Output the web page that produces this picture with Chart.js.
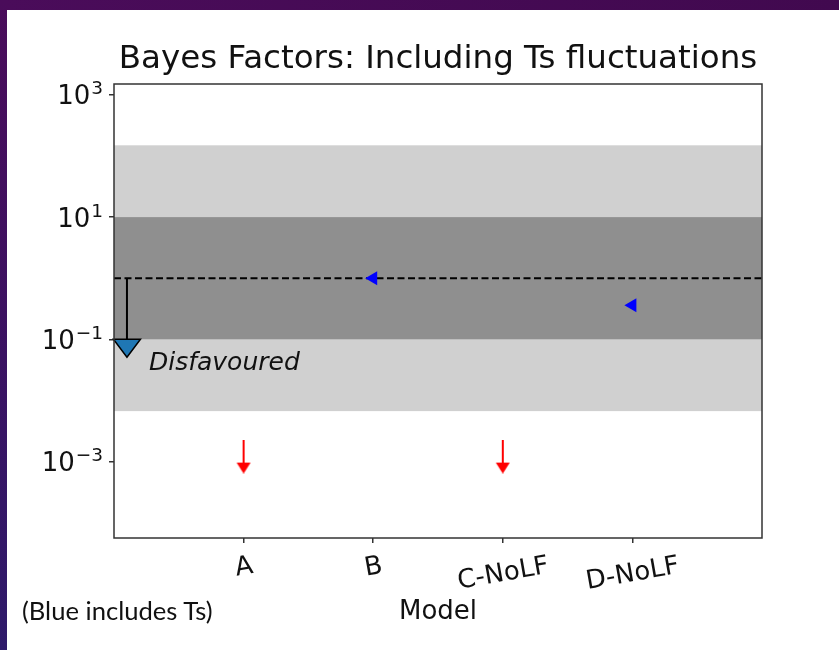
<!DOCTYPE html>
<html>
<head>
<meta charset="utf-8">
<script src="https://cdn.jsdelivr.net/npm/chart.js@4.4.1/dist/chart.umd.min.js"></script>
<style>
  html, body { margin: 0; padding: 0; width: 839px; height: 650px; overflow: hidden; background: #ffffff; }
  #topbar { position: absolute; left: 0; top: 0; width: 839px; height: 10px; background: linear-gradient(90deg, #4a0c5a 0%, #41094f 100%); }
  #leftbar { position: absolute; left: 0; top: 0; width: 7px; height: 650px; background: linear-gradient(180deg, #4a0c5a 0%, #3a1262 55%, #2e1a6a 100%); }
  #wrap { position: absolute; left: 0; top: 0; width: 839px; height: 650px; }
  #note { position: absolute; left: 22px; top: 595px; font-family: Lato, 'Liberation Sans', sans-serif; font-size: 25.6px; color: #111; white-space: nowrap; line-height: 30px; }
</style>
</head>
<body>
<div id="wrap"><canvas id="c" width="839" height="650"></canvas></div>
<div id="topbar"></div>
<div id="leftbar"></div>
<div id="note">(Blue includes Ts)</div>
<script>
// ---- data ----
const categories = ['A', 'B', 'C-NoLF', 'D-NoLF'];
const categoryPositions = [1, 2, 3, 4];
const blueIncludingTs = [null, 1.0, null, 0.36];        // blue left-pointing markers
const redUpperLimits = [0.0012, null, 0.0012, null];     // red downward arrows (upper limits)
const yTickValues = [1e-3, 1e-1, 1e1, 1e3];
const yTickBase = '10';
const yTickExponents = ['\u22123', '\u22121', '1', '3'];
const strongBand = [0.1, 10];           // dark grey band
const veryStrongBand = [1 / 150, 150];  // light grey band
const referenceLevel = 1;               // dashed line
const disfavouredArrow = { x: 0.1, from: 1, to: 0.1 };

const FONT = 'DejaVu Sans';
Chart.defaults.font.family = FONT;
Chart.defaults.color = '#000';

// red arrow marker
function makeArrow() {
  const c = document.createElement('canvas');
  c.width = 16; c.height = 34;
  const g = c.getContext('2d');
  g.strokeStyle = '#ff0000'; g.fillStyle = '#ff0000'; g.lineWidth = 2;
  g.beginPath(); g.moveTo(8, 0); g.lineTo(8, 25); g.stroke();
  g.beginPath(); g.moveTo(1, 23); g.lineTo(15, 23); g.lineTo(8, 34); g.closePath(); g.fill();
  return c;
}
const arrowImg = makeArrow();

const toPoints = (vals) => vals.map((v, i) => (v === null ? null : { x: categoryPositions[i], y: v })).filter(p => p);

const bandsPlugin = {
  id: 'bands',
  beforeDatasetsDraw(chart) {
    const { ctx, chartArea: a, scales: { y } } = chart;
    ctx.save();
    ctx.beginPath(); ctx.rect(a.left, a.top, a.right - a.left, a.bottom - a.top); ctx.clip();
    const band = (r, col) => {
      const t = y.getPixelForValue(r[1]), b = y.getPixelForValue(r[0]);
      ctx.fillStyle = col;
      ctx.fillRect(a.left, t, a.right - a.left, b - t);
    };
    band(veryStrongBand, '#d0d0d0');
    band(strongBand, '#8f8f8f');
    ctx.restore();
  }
};

const overlayPlugin = {
  id: 'overlay',
  afterDatasetsDraw(chart) {
    const { ctx, chartArea: a, scales: { x, y } } = chart;
    ctx.save();
    // annotation arrow
    const ax = x.getPixelForValue(disfavouredArrow.x);
    const y1 = y.getPixelForValue(disfavouredArrow.from);
    const y2 = y.getPixelForValue(disfavouredArrow.to);
    ctx.strokeStyle = '#000'; ctx.lineWidth = 2;
    ctx.beginPath(); ctx.moveTo(ax, y1); ctx.lineTo(ax, y2); ctx.stroke();
    ctx.beginPath();
    ctx.moveTo(ax - 13.5, y2); ctx.lineTo(ax + 13.5, y2); ctx.lineTo(ax, y2 + 18); ctx.closePath();
    ctx.fillStyle = '#1f77b4'; ctx.fill();
    ctx.lineWidth = 1.5; ctx.strokeStyle = '#000'; ctx.stroke();
    ctx.fillStyle = '#111';
    ctx.font = 'italic 25px "' + FONT + '"';
    ctx.textAlign = 'left'; ctx.textBaseline = 'alphabetic';
    ctx.fillText('Disfavoured', ax + 22, y2 + 31);
    // frame (spines)
    ctx.strokeStyle = '#333'; ctx.lineWidth = 1.5;
    ctx.strokeRect(a.left, a.top, a.right - a.left, a.bottom - a.top);
    ctx.restore();
  },
  afterDraw(chart) {
    const { ctx, chartArea: a, scales: { x, y } } = chart;
    const fs = 26, th = 10 * Math.PI / 180;
    ctx.save();
    ctx.fillStyle = '#111';
    // x tick labels (rotated, centred under each tick)
    ctx.font = fs + 'px "' + FONT + '"';
    ctx.textAlign = 'center'; ctx.textBaseline = 'alphabetic';
    const y0 = a.bottom + 11;
    categories.forEach((lab, i) => {
      const px = x.getPixelForValue(categoryPositions[i]);
      const w = ctx.measureText(lab).width;
      const h = fs * 1.164;
      const H = w * Math.sin(th) + h * Math.cos(th);
      ctx.save();
      ctx.translate(px, y0 + H / 2);
      ctx.rotate(-th);
      ctx.fillText(lab, 0, fs * 0.346);
      ctx.restore();
    });
    // y tick labels with superscript exponents
    const right = a.left - 11;
    const es = 18.5;
    ctx.textAlign = 'left';
    yTickValues.forEach((v, i) => {
      const py = y.getPixelForValue(v);
      ctx.font = es + 'px "' + FONT + '"';
      const we = ctx.measureText(yTickExponents[i]).width;
      ctx.font = fs + 'px "' + FONT + '"';
      const wb = ctx.measureText(yTickBase).width;
      const sx = right - we - wb - 1;
      ctx.fillText(yTickBase, sx, py + 9.5);
      ctx.font = es + 'px "' + FONT + '"';
      ctx.fillText(yTickExponents[i], sx + wb + 1, py - 0.5);
    });
    ctx.restore();
  }
};

new Chart(document.getElementById('c'), {
  type: 'scatter',
  data: {
    datasets: [
      {
        label: 'Including Ts',
        data: toPoints(blueIncludingTs),
        pointStyle: 'triangle', rotation: -90, radius: 8,
        backgroundColor: '#0000ff', borderColor: '#0000ff', borderWidth: 0,
        order: 1
      },
      {
        label: 'Upper limits',
        data: toPoints(redUpperLimits),
        pointStyle: arrowImg, radius: 8,
        order: 2
      },
      {
        type: 'line',
        label: 'BF = 1',
        data: [{ x: 0, y: referenceLevel }, { x: 5, y: referenceLevel }],
        borderColor: '#000', borderWidth: 2, borderDash: [7, 3.5],
        pointRadius: 0, fill: false,
        order: 3
      }
    ]
  },
  options: {
    responsive: false,
    animation: false,
    devicePixelRatio: 1,
    layout: { padding: { left: 37, right: 0, top: 0, bottom: 0 } },
    plugins: {
      legend: { display: false },
      tooltip: { enabled: false },
      title: {
        display: true,
        text: 'Bayes Factors: Including Ts fluctuations',
        font: { family: FONT, size: 32.5, weight: 'normal', lineHeight: 1.2 },
        color: '#111',
        padding: { top: 40, bottom: 5 }
      }
    },
    scales: {
      x: {
        type: 'linear', min: 0, max: 5,
        afterBuildTicks: (s) => { s.ticks = categoryPositions.map(v => ({ value: v })); },
        afterFit: (s) => { s.height = 112; },
        ticks: { display: false },
        grid: { drawOnChartArea: false, drawTicks: true, tickLength: 5, color: '#333', lineWidth: 1.5 },
        border: { display: false },
        title: { display: true, text: 'Model', font: { family: FONT, size: 26 }, color: '#111', padding: { top: 0, bottom: 21.7 } }
      },
      y: {
        type: 'logarithmic', position: 'left',
        min: Math.pow(10, -4.254), max: Math.pow(10, 3.18),
        afterBuildTicks: (s) => { s.ticks = yTickValues.map(v => ({ value: v })); },
        afterFit: (s) => { s.width = 77; },
        ticks: { display: false },
        grid: { drawOnChartArea: false, drawTicks: true, tickLength: 5, color: '#333', lineWidth: 1.5 },
        border: { display: false }
      },
      yRightMargin: {
        type: 'linear', position: 'right', display: true,
        afterFit: (s) => { s.width = 77; },
        ticks: { display: false },
        grid: { display: false, drawTicks: false },
        border: { display: false }
      }
    }
  },
  plugins: [bandsPlugin, overlayPlugin]
});
</script>
</body>
</html>
